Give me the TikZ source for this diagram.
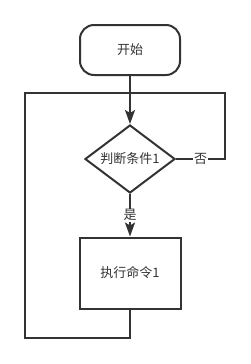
\documentclass[tikz,border=0pt]{standalone}
\usepackage{fontspec}
\usepackage{tikz}
\usetikzlibrary{shapes.geometric,arrows.meta}
\newfontfamily\cjk{Noto Sans CJK SC}

\begin{document}
\begin{tikzpicture}[x=1pt, y=-1pt, line width=2pt, draw=black!80,
    every node/.style={font=\cjk\fontsize{13}{15}\selectfont, text=black!80},
    arr/.style={-{Stealth[length=14pt, width=10pt, inset=3pt]}},
    terminal/.style={draw, rounded corners=14pt, minimum width=100pt, minimum height=50pt},
    decision/.style={draw, diamond, aspect=1.32, minimum width=90pt, minimum height=68pt, inner sep=0pt},
    process/.style={draw, rectangle, minimum width=101pt, minimum height=71pt}]
    \useasboundingbox (0,0) rectangle (250,364);
    \node[terminal] (start) at (130,50) {开始};
    \node[decision] (cond) at (130,159) {判断条件1};
    \node[process] (cmd) at (130,273) {执行命令1};
    \coordinate (join) at (130,93);
    \coordinate (loopbl) at (25,338);
    \coordinate (looptl) at (25,93);
    \coordinate (looptr) at (225,93);
    \coordinate (noturn) at (225,159);
    \draw[arr] (start) -- (cond);
    \draw[arr] (cond) -- node[pos=0.5, fill=white, inner sep=1pt] (yes) {是} (cmd);
    \draw (cmd.south) |- (loopbl) -- (looptl) -- (join);
    \draw (cond.east) -- node[pos=0.5, fill=white, inner sep=1pt] (no) {否} (noturn) -- (looptr) -- (join);
\end{tikzpicture}
\end{document}
